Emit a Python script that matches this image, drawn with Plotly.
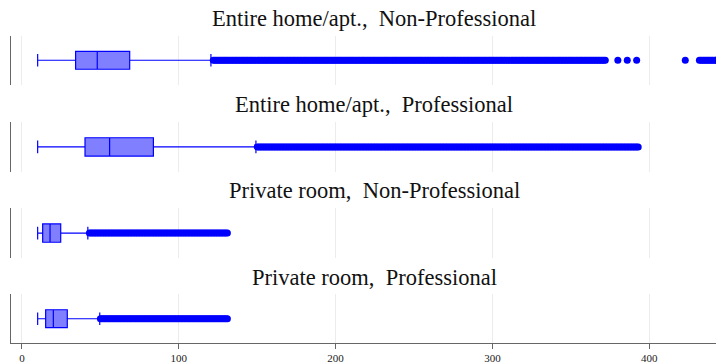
import plotly.graph_objects as go

# ---- data -----------------------------------------------------------------
panel_titles = [
    "Entire home/apt., \u00a0Non-Professional",
    "Entire home/apt., \u00a0Professional",
    "Private room, \u00a0Non-Professional",
    "Private room, \u00a0Professional",
]

# box statistics per panel (price)
lower_fences = [10, 10, 10, 10]
q1_values = [34.2, 40.2, 13.2, 15.1]
medians = [48.0, 55.9, 17.9, 20.0]
q3_values = [68.7, 83.8, 24.7, 28.9]
upper_fences = [120.5, 149.2, 42.0, 49.6]

# outliers: every whole-dollar price inside each (lo, hi) run is present,
# plus a few isolated listings further out
entire_nonpro_runs = [(122, 372), (432, 446)]
entire_nonpro_single = [380, 386, 392, 423]
entire_pro_runs = [(150, 393)]
entire_pro_single = []
private_nonpro_runs = [(43, 131)]
private_nonpro_single = []
private_pro_runs = [(50, 131)]
private_pro_single = []

outlier_runs = [entire_nonpro_runs, entire_pro_runs, private_nonpro_runs, private_pro_runs]
outlier_single = [entire_nonpro_single, entire_pro_single, private_nonpro_single, private_pro_single]

x_ticks = [0, 100, 200, 300, 400]

# ---- styling ----------------------------------------------------------------
BLUE = "#0000ff"
FILL = "rgba(0,0,255,0.5)"
FONT = "Liberation Serif, Times New Roman, serif"
AXIS_GREY = "#666666"
GRID = "#ececec"

# plot area pixel geometry (figure is 716 x 364)
W, H = 716, 364
M_L, M_R, M_T, M_B = 11, 0, 36, 18
plot_h = H - M_T - M_B
panel_px = [(36, 85), (123, 173), (210, 260), (297, 346)]
title_px = [18, 105, 192, 280]


def py_to_paper(py):
    return (H - M_B - py) / plot_h


fig = go.Figure()

for i in range(4):
    ax = "" if i == 0 else str(i + 1)
    xref, yref = "x" + ax, "y" + ax

    fig.add_trace(go.Box(
        orientation="h",
        y=[0],
        q1=[q1_values[i]],
        median=[medians[i]],
        q3=[q3_values[i]],
        lowerfence=[lower_fences[i]],
        upperfence=[upper_fences[i]],
        width=0.37,
        whiskerwidth=0.7,
        fillcolor=FILL,
        line=dict(color=BLUE, width=1.2),
        boxpoints=False,
        xaxis=xref, yaxis=yref,
        showlegend=False,
        hoverinfo="x",
    ))

    pts = []
    for lo, hi in outlier_runs[i]:
        pts.extend(range(lo, hi + 1))
    pts.extend(outlier_single[i])
    pts.sort()
    fig.add_trace(go.Scatter(
        x=pts, y=[0] * len(pts),
        mode="markers",
        marker=dict(color=BLUE, size=7, line=dict(width=0)),
        xaxis=xref, yaxis=yref,
        showlegend=False,
        hoverinfo="x",
    ))

    top, bottom = panel_px[i]
    last = i == 3
    fig.layout["xaxis" + ax] = dict(
        domain=[0, 1],
        anchor=yref,
        range=[-7.0, 442.6],
        tickvals=x_ticks,
        showgrid=True, gridcolor=GRID, gridwidth=1,
        zeroline=False,
        showticklabels=last,
        showline=last, linecolor=AXIS_GREY, linewidth=1.2,
        ticks="outside" if last else "",
        ticklen=5, tickcolor=AXIS_GREY, tickwidth=1,
        tickfont=dict(family=FONT, size=11, color="#222222"),
    )
    fig.layout["yaxis" + ax] = dict(
        domain=[py_to_paper(bottom), py_to_paper(top)],
        anchor=xref,
        range=[-0.5, 0.5],
        showgrid=False, zeroline=False,
        showticklabels=False, ticks="",
        showline=True, linecolor=AXIS_GREY, linewidth=1.2,
        fixedrange=True,
    )

    fig.add_annotation(
        text=panel_titles[i],
        xref="paper", yref="paper",
        x=(374 - M_L) / (W - M_L - M_R),
        y=py_to_paper(title_px[i]),
        xanchor="center", yanchor="middle",
        showarrow=False,
        font=dict(family=FONT, size=22.5, color="#111111"),
    )

fig.update_layout(
    width=W, height=H,
    margin=dict(l=M_L, r=M_R, t=M_T, b=M_B, pad=0),
    paper_bgcolor="white",
    plot_bgcolor="white",
    showlegend=False,
)

fig.write_html("out.html")
